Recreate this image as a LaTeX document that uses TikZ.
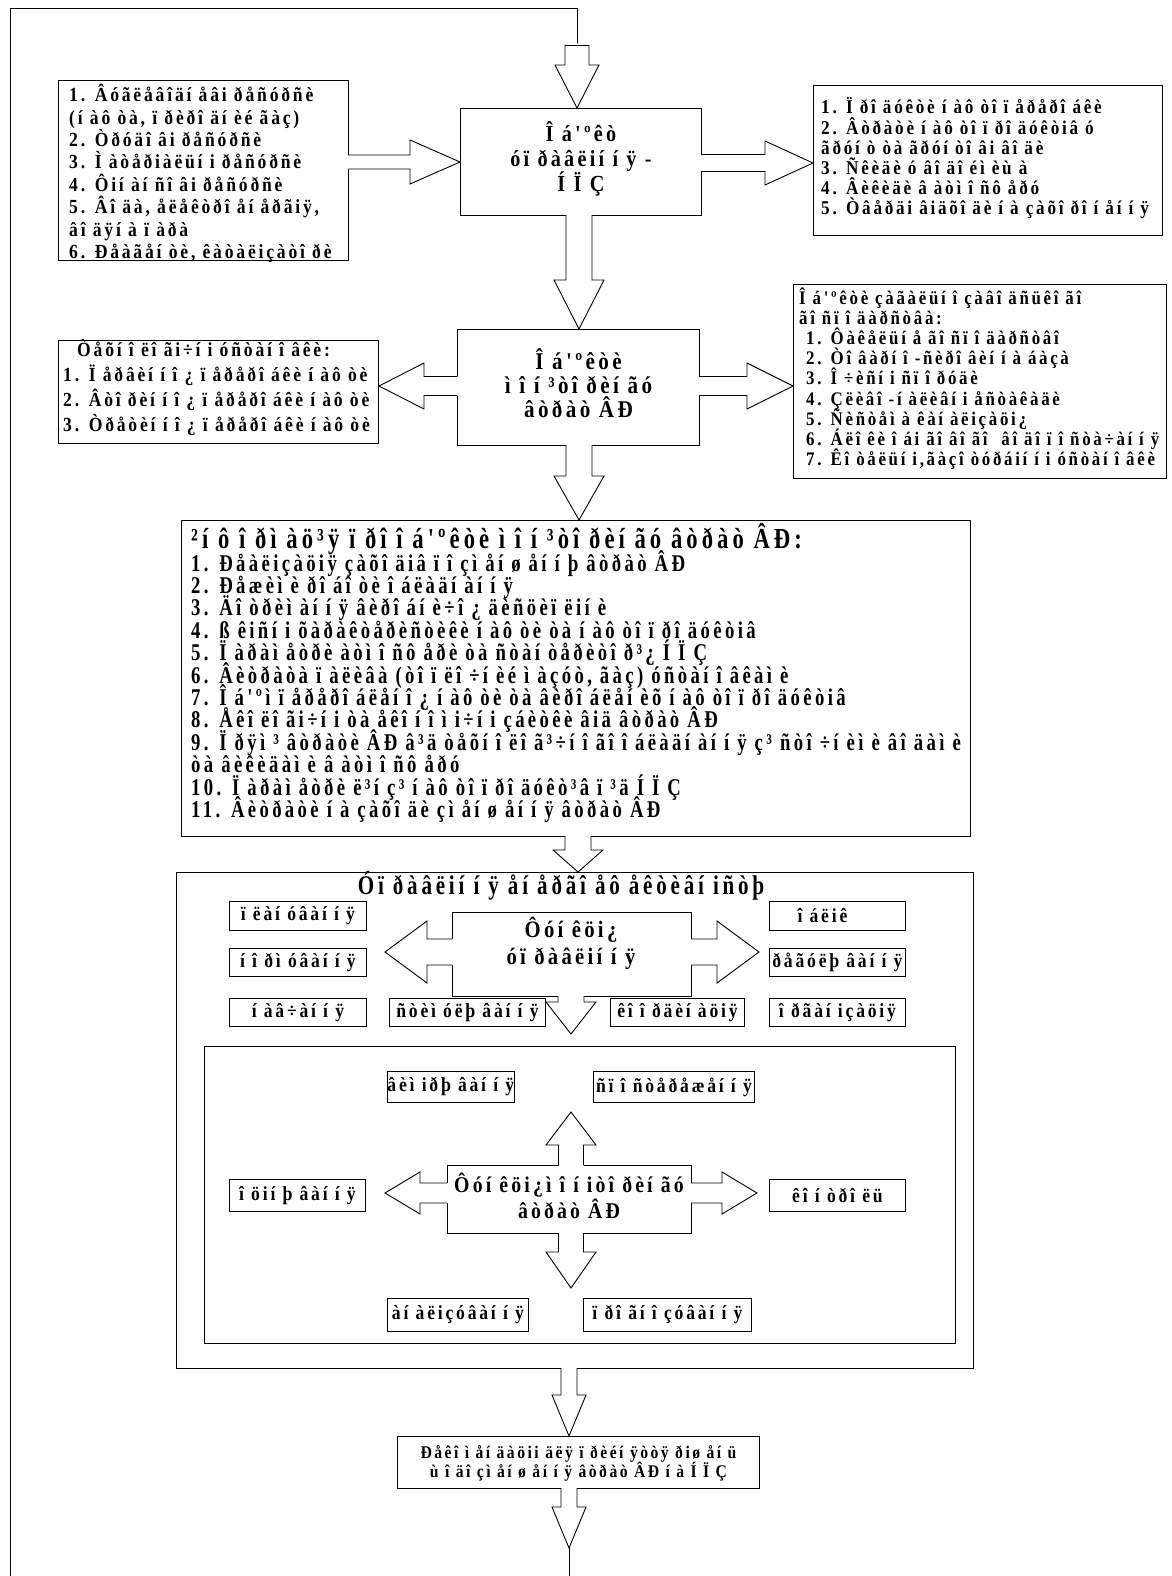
\documentclass[tikz,border=0pt]{standalone}
\usepackage{fontspec}
\newfontfamily\tf{Liberation Serif}[FakeStretch=0.88,LetterSpace=14]
\newfontfamily\tn{Liberation Serif}[FakeStretch=0.78,LetterSpace=14]
\usetikzlibrary{calc}
\setlength{\lineskiplimit}{-100pt}
\newcommand\FS[2]{\fontsize{#1}{#2}\selectfont\lineskiplimit=-100pt\relax}
% vertical block arrow: x, y start, y tip, shaft half width, head half width, signed head length
\newcommand\BAv[6]{%
  \fill[white] ({#1-#4},{#2-1.5*sign(#6)}) -- ({#1-#4},{#3-(#6)}) -- ({#1-#5},{#3-(#6)}) -- (#1,#3) -- ({#1+#5},{#3-(#6)}) -- ({#1+#4},{#3-(#6)}) -- ({#1+#4},{#2-1.5*sign(#6)}) -- cycle;
  \draw[arr] ({#1-#4},#2) -- ({#1-#4},{#3-(#6)}) -- ({#1-#5},{#3-(#6)}) -- (#1,#3) -- ({#1+#5},{#3-(#6)}) -- ({#1+#4},{#3-(#6)}) -- ({#1+#4},#2);}
% horizontal block arrow: y, x start, x tip, shaft half width, head half width, signed head length
\newcommand\BAh[6]{%
  \fill[white] ({#2-1.5*sign(#6)},{#1-#4}) -- ({#3-(#6)},{#1-#4}) -- ({#3-(#6)},{#1-#5}) -- (#3,#1) -- ({#3-(#6)},{#1+#5}) -- ({#3-(#6)},{#1+#4}) -- ({#2-1.5*sign(#6)},{#1+#4}) -- cycle;
  \draw[arr] (#2,{#1-#4}) -- ({#3-(#6)},{#1-#4}) -- ({#3-(#6)},{#1-#5}) -- (#3,#1) -- ({#3-(#6)},{#1+#5}) -- ({#3-(#6)},{#1+#4}) -- (#2,{#1+#4});}
\tikzset{
  bx/.style={draw, line width=0.9pt, fill=white, inner sep=0pt},
  tx/.style={font=\tf\bfseries, inner sep=0pt},
  sb/.style={draw, line width=0.9pt, fill=white, inner sep=0pt, font=\tf\bfseries\FS{20}{20}},
  arr/.style={line width=0.9pt},
}
\begin{document}
\begin{tikzpicture}[x=1pt,y=-1pt]
\useasboundingbox (0,0) rectangle (1171,1576);
\fill[white] (0,0) rectangle (1171,1576);

% ---------- feedback loop ----------
\coordinate (lt) at (10,8);
\coordinate (lb) at (10,1576);
\coordinate (tt) at (577,8);
\coordinate (ta) at (577,45);
\draw[arr] (lb) -- (lt) -- (tt) -- (ta);

% ---------- top row ----------
\node[bx, anchor=north west, minimum width=290, minimum height=180] (tl) at (58,80) {};
\node[tx, anchor=west, align=left, font=\tf\bfseries\FS{20}{22.4}] (tlt) at ($(tl.west)+(11,3)$) {1. Âóãëåâîäí åâi ðåñóðñè\\(í àô òà, ï ðèðî äí èé ãàç)\\2. Òðóäî âi ðåñóðñè\\3. Ì àòåðiàëüí i ðåñóðñè\\4. Ôií àí ñî âi ðåñóðñè\\5. Âî äà, åëåêòðî åí åðãiÿ,\\âî äÿí à ï àðà\\6. Ðåàãåí òè, êàòàëiçàòî ðè};

\node[bx, anchor=north west, minimum width=241, minimum height=107] (c1) at (460,108) {};
\node[tx, align=center, font=\tf\bfseries\FS{23}{25}] (c1t) at ($(c1.center)+(0,-3)$) {Î á'ºêò\\óï ðàâëií í ÿ -\\Í Ï Ç};

\node[bx, anchor=north west, minimum width=349, minimum height=150] (tr) at (813,85) {};
\node[tx, anchor=west, align=left, font=\tf\bfseries\FS{19.5}{20.2}] (trt) at ($(tr.west)+(8,-2)$) {1. Ï ðî äóêòè í àô òî ï åðåðî áêè\\2. Âòðàòè í àô òî ï ðî äóêòiâ ó\\ãðóí ò òà ãðóí òî âi âî äè\\3. Ñêèäè ó âî äî éì èù à\\4. Âèêèäè â àòì î ñô åðó\\5. Òâåðäi âiäõî äè í à çàõî ðî í åí í ÿ};

\BAv{577}{45}{108}{12}{22}{43}
\draw[arr] (565,45) -- (589,45);
\BAh{162}{348}{460}{7}{22}{50}
\BAh{163}{701}{813}{8.5}{22}{48}

% ---------- second row ----------
\node[bx, anchor=north west, minimum width=242, minimum height=116] (c2) at (457,329) {};
\node[tx, align=center, font=\tf\bfseries\FS{24}{24}] (c2t) at ($(c2.center)+(0,-4)$) {Î á'ºêòè\\ì î í ³òî ðèí ãó\\âòðàò ÂÐ};

\node[bx, anchor=north west, minimum width=320, minimum height=103] (l2) at (58,340) {};
\node[tx, anchor=west, align=left, font=\tf\bfseries\FS{20}{25}] (l2t) at ($(l2.west)+(5,-4)$) {\hspace*{14pt}Òåõí î ëî ãi÷í i óñòàí î âêè:\\1. Ï åðâèí í î ¿ ï åðåðî áêè í àô òè\\2. Âòî ðèí í î ¿ ï åðåðî áêè í àô òè\\3. Òðåòèí í î ¿ ï åðåðî áêè í àô òè};

\node[bx, anchor=north west, minimum width=373, minimum height=194] (r2) at (793,284) {};
\node[tx, anchor=west, align=left, font=\tf\bfseries\FS{19.2}{20.2}] (r2t) at ($(r2.west)+(6,-3)$) {Î á'ºêòè çàãàëüí î çàâî äñüêî ãî\\ãî ñï î äàðñòâà:\\\ 1. Ôàêåëüí å ãî ñï î äàðñòâî\\\ 2. Òî âàðí î -ñèðî âèí í à áàçà\\\ 3. Î ÷èñí i ñï î ðóäè\\\ 4. Çëèâî -í àëèâí i åñòàêàäè\\\ 5. Ñèñòåì à êàí àëiçàöi¿\\\ 6. Áëî êè î ái ãî âî ãî \ âî äî ï î ñòà÷àí í ÿ\\\ 7. Êî òåëüí i,ãàçî òóðáií í i óñòàí î âêè};

\BAv{579}{215}{329}{13}{25}{49}
\BAh{386}{457}{379}{9.5}{23}{-45}
\BAh{386}{699}{793}{9.5}{23}{46}

% ---------- third block ----------
\node[bx, anchor=north west, minimum width=789, minimum height=316] (b3) at (181,520) {};
\node[tx, anchor=north west, font=\tn\bfseries\FS{29}{24}] (b3h) at (191,523) {²í ô î ðì àö³ÿ ï ðî î á'ºêòè ì î í ³òî ðèí ãó âòðàò ÂÐ:};
\node[tx, anchor=north west, align=left, font=\tn\bfseries\FS{24}{22.4}] (b3t) at (191,550) {1. Ðåàëiçàöiÿ çàõî äiâ ï î çì åí ø åí í þ âòðàò ÂÐ\\2. Ðåæèì è ðî áî òè î áëàäí àí í ÿ\\3. Äî òðèì àí í ÿ âèðî áí è÷î ¿ äèñöèï ëií è\\4. ß êiñí i õàðàêòåðèñòèêè í àô òè òà í àô òî ï ðî äóêòiâ\\5. Ï àðàì åòðè àòì î ñô åðè òà ñòàí òåðèòî ð³¿ Í Ï Ç\\6. Âèòðàòà ï àëèâà (òî ï ëî ÷í èé ì àçóò, ãàç) óñòàí î âêàì è\\7. Î á'ºì ï åðåðî áëåí î ¿ í àô òè òà âèðî áëåí èõ í àô òî ï ðî äóêòiâ\\8. Åêî ëî ãi÷í i òà åêî í î ì i÷í i çáèòêè âiä âòðàò ÂÐ\\9. Ï ðÿì ³ âòðàòè ÂÐ â³ä òåõí î ëî ã³÷í î ãî î áëàäí àí í ÿ ç³ ñòî ÷í èì è âî äàì è\\òà âèêèäàì è â àòì î ñô åðó\\10. Ï àðàì åòðè ë³í ç³ í àô òî ï ðî äóêò³â ï ³ä Í Ï Ç\\11. Âèòðàòè í à çàõî äè çì åí ø åí í ÿ âòðàò ÂÐ};

\BAv{579}{445}{520}{13}{25}{44}

% ---------- management group ----------
\node[bx, anchor=north west, minimum width=797, minimum height=496] (g) at (176,872) {};
\BAv{578}{836}{872}{13}{25}{22}
\node[tx, font=\tn\bfseries\FS{27}{24}] (gt) at (561,886) {Óï ðàâëií í ÿ åí åðãî åô åêòèâí iñòþ};

\node[sb, anchor=north west, minimum width=137, minimum height=29] (s1) at (229,901) {ï ëàí óâàí í ÿ};
\node[sb, anchor=north west, minimum width=137, minimum height=28] (s2) at (229,948) {í î ðì óâàí í ÿ};
\node[sb, anchor=north west, minimum width=137, minimum height=28] (s3) at (229,998) {í àâ÷àí í ÿ};
\node[sb, anchor=north west, minimum width=156, minimum height=28] (s4) at (389,998) {ñòèì óëþ âàí í ÿ};
\node[sb, anchor=north west, minimum width=134, minimum height=28] (s5) at (610,998) {êî î ðäèí àöiÿ};
\node[sb, anchor=north west, minimum width=136, minimum height=28] (s6) at (769,998) {î ðãàí içàöiÿ};
\node[sb, anchor=north west, minimum width=136, minimum height=29] (s7) at (769,901) {\hspace*{-30pt}î áëiê};
\node[sb, anchor=north west, minimum width=136, minimum height=28] (s8) at (769,948) {ðåãóëþ âàí í ÿ};

\node[bx, anchor=north west, minimum width=239, minimum height=84] (f1) at (452,912) {};
\BAh{952}{452}{385}{13}{31}{-42}
\BAh{952}{691}{759}{13}{31}{42}
\BAv{571}{996}{1034}{13}{25}{32}
\node[tx, align=center, font=\tf\bfseries\FS{23.5}{27}] (f1t) at (571,943) {Ôóí êöi¿\\óï ðàâëií í ÿ};

% ---------- monitoring group ----------
\node[bx, anchor=north west, minimum width=751, minimum height=297] (ib) at (204,1046) {};
\node[sb, anchor=north west, minimum width=124, minimum height=31] (m1) at (387,1071) {âèì iðþ âàí í ÿ};
\node[sb, anchor=north west, minimum width=161, minimum height=31] (m2) at (593,1071) {ñï î ñòåðåæåí í ÿ};
\node[sb, anchor=north west, minimum width=136, minimum height=32] (m3) at (229,1179) {î öií þ âàí í ÿ};
\node[sb, anchor=north west, minimum width=136, minimum height=32] (m4) at (769,1179) {êî í òðî ëü};
\node[sb, anchor=north west, minimum width=141, minimum height=33] (m5) at (387,1298) {àí àëiçóâàí í ÿ};
\node[sb, anchor=north west, minimum width=168, minimum height=33] (m6) at (583,1298) {ï ðî ãí î çóâàí í ÿ};

\node[bx, anchor=north west, minimum width=244, minimum height=68] (f2) at (447,1165) {};
\BAv{571}{1165}{1112}{12.5}{25}{-33}
\BAh{1193}{447}{385}{10}{21}{-35}
\BAh{1193}{691}{757}{10}{21}{35}
\BAv{571}{1233}{1288}{12.5}{25}{36}
\node[tx, align=center, font=\tf\bfseries\FS{22.5}{26}] (f2t) at (569,1196) {Ôóí êöi¿ì î í iòî ðèí ãó\\âòðàò ÂÐ};

% ---------- recommendations ----------
\node[bx, anchor=north west, minimum width=362, minimum height=52] (rc) at (397,1436) {};
\node[tx, align=center, font=\tf\bfseries\FS{17.8}{19}] (rct) at ($(rc.center)+(0,1)$) {Ðåêî ì åí äàöii äëÿ ï ðèéí ÿòòÿ ðiø åí ü\\ù î äî çì åí ø åí í ÿ âòðàò ÂÐ í à Í Ï Ç};
\BAv{569}{1368}{1436}{8}{17}{41}
\BAv{569}{1488}{1548}{8}{17}{41}
\coordinate (bt) at (569,1548);
\coordinate (bb) at (569,1576);
\draw[arr] (bt) -- (bb);
\end{tikzpicture}
\end{document}
